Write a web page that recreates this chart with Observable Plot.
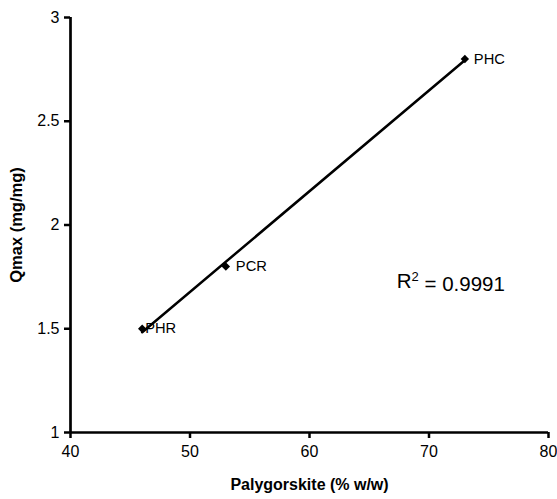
<!DOCTYPE html>
<html><head><meta charset="utf-8">
<script src="https://cdn.jsdelivr.net/npm/d3@7"></script>
<script src="https://cdn.jsdelivr.net/npm/@observablehq/plot@0.6"></script>
<style>body{margin:0;background:#fff;} svg{font-family:"Liberation Sans",Arial,sans-serif;}</style>
</head><body><div id="chart"></div>
<script>
const samples = ["PHR", "PCR", "PHC"];
const palygorskite = [46, 53, 73];
const qmax = [1.5, 1.8, 2.8];
const xTicks = [40, 50, 60, 70, 80];
const yTicks = [1, 1.5, 2, 2.5, 3];
const r2Label = "R2 = 0.9991";

const data = samples.map((s, i) => ({sample: s, x: palygorskite[i], y: qmax[i]}));

const chart = Plot.plot({
  width: 557, height: 499,
  marginLeft: 70, marginRight: 9, marginTop: 17, marginBottom: 67,
  style: {fontFamily: "Liberation Sans, Arial, sans-serif", background: "#fff", fontSize: "15px"},
  x: {domain: [40, 80]},
  y: {domain: [1, 3]},
  marks: [
    Plot.axisX({ticks: xTicks, tickFormat: d3.format("~g"), tickSize: 6, tickPadding: 7, fontSize: 16, stroke: "#000", color: "#000",
      label: "Palygorskite (% w/w)", labelAnchor: "center", labelArrow: "none", labelOffset: 57}),
    Plot.axisY({ticks: yTicks, tickFormat: d3.format("~g"), tickSize: 6, tickPadding: 5, fontSize: 16, stroke: "#000", color: "#000",
      label: "Qmax (mg/mg)", labelAnchor: "center", labelArrow: "none", labelOffset: 60}),
    Plot.ruleX([40], {stroke: "#000", strokeWidth: 2.7}),
    Plot.ruleY([1], {stroke: "#000", strokeWidth: 2.7}),
    Plot.linearRegressionY(data, {x: "x", y: "y", ci: 0, stroke: "#000", strokeWidth: 2.5}),
    Plot.dot(data, {x: "x", y: "y", symbol: "diamond2", r: 3.8, fill: "#000", stroke: "none"}),
    Plot.text(data, {x: "x", y: "y", text: "sample", textAnchor: "start", fontSize: 14.7, fill: "#000"}),
    Plot.text([r2Label], {x: [67.3], y: [1.73], text: d => d, textAnchor: "start", fontSize: 20.5, fill: "#000"})
  ]
});
document.getElementById("chart").appendChild(chart);

const svg = d3.select(chart);
svg.selectAll('[aria-label="x-axis tick"], [aria-label="y-axis tick"]')
  .attr("stroke-width", 2.5);

const offs = {PHR: 3, PCR: 10, PHC: 9};
svg.selectAll("text").each(function() {
  const t = this.textContent;
  if (offs[t] !== undefined) d3.select(this).attr("dx", offs[t]);
  if (t === "Palygorskite (% w/w)") d3.select(this).attr("font-weight", "bold").style("font-size", "16px");
  if (t === "Qmax (mg/mg)") d3.select(this).attr("font-weight", "bold").style("font-size", "16.5px");
  if (t === r2Label) {
    const sel = d3.select(this);
    sel.text(null);
    sel.append("tspan").text("R");
    sel.append("tspan").attr("dy", "-0.5em").attr("font-size", 13).text("2");
    sel.append("tspan").attr("dy", "0.5em").text(" = 0.9991");
  }
});
</script></body></html>
